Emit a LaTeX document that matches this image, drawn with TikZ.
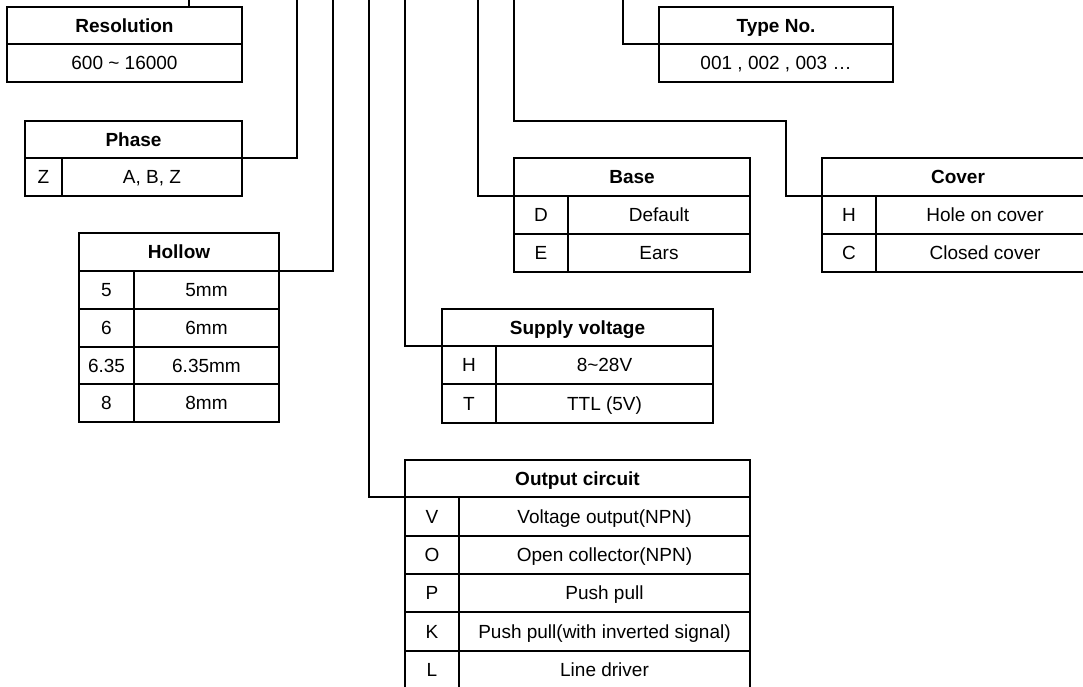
\documentclass[tikz,border=0pt]{standalone}
\usepackage{fontspec}
\setmainfont{Liberation Sans}
\begin{document}
\begin{tikzpicture}[x=1pt,y=-1pt,line width=2.8pt,
  cell/.style={draw, rectangle, inner sep=0pt, outer sep=0pt, anchor=north west, text height=13.6pt, text depth=0pt, font=\fontsize{19}{23}\selectfont},
  head/.style={cell, font=\fontsize{19}{23}\selectfont\bfseries},
  link/.style={line width=2.8pt}]
\clip (0,0) rectangle (1083,686);
% Resolution
\node[head, minimum width=235pt, minimum height=37pt] (resH) at (7,7) {Resolution};
\node[cell, minimum width=235pt, minimum height=38pt] (resV) at (7,44) {600 \textasciitilde{} 16000};
% Phase
\node[head, minimum width=217pt, minimum height=37pt] (phH) at (25,121) {Phase};
\node[cell, minimum width=37pt, minimum height=38pt] (phK) at (25,158) {Z};
\node[cell, minimum width=180pt, minimum height=38pt] (phV) at (62,158) {A, B, Z};
% Hollow
\node[head, minimum width=200pt, minimum height=38pt] (holH) at (79,233) {Hollow};
\node[cell, minimum width=55pt, minimum height=38pt] (holK1) at (79,271) {5};
\node[cell, minimum width=145pt, minimum height=38pt] (holV1) at (134,271) {5mm};
\node[cell, minimum width=55pt, minimum height=38pt] (holK2) at (79,309) {6};
\node[cell, minimum width=145pt, minimum height=38pt] (holV2) at (134,309) {6mm};
\node[cell, minimum width=55pt, minimum height=37pt] (holK3) at (79,347) {6.35};
\node[cell, minimum width=145pt, minimum height=37pt] (holV3) at (134,347) {6.35mm};
\node[cell, minimum width=55pt, minimum height=38pt] (holK4) at (79,384) {8};
\node[cell, minimum width=145pt, minimum height=38pt] (holV4) at (134,384) {8mm};
% Type No.
\node[head, minimum width=234pt, minimum height=37pt] (typH) at (659,7) {Type No.};
\node[cell, minimum width=234pt, minimum height=38pt] (typV) at (659,44) {001 , 002 , 003 …};
% Base
\node[head, minimum width=236pt, minimum height=38pt] (baseH) at (514,158) {Base};
\node[cell, minimum width=54pt, minimum height=38pt] (baseK1) at (514,196) {D};
\node[cell, minimum width=182pt, minimum height=38pt] (baseV1) at (568,196) {Default};
\node[cell, minimum width=54pt, minimum height=38pt] (baseK2) at (514,234) {E};
\node[cell, minimum width=182pt, minimum height=38pt] (baseV2) at (568,234) {Ears};
% Cover
\node[head, minimum width=272pt, minimum height=38pt] (covH) at (822,158) {Cover};
\node[cell, minimum width=54pt, minimum height=38pt] (covK1) at (822,196) {H};
\node[cell, minimum width=218pt, minimum height=38pt] (covV1) at (876,196) {Hole on cover};
\node[cell, minimum width=54pt, minimum height=38pt] (covK2) at (822,234) {C};
\node[cell, minimum width=218pt, minimum height=38pt] (covV2) at (876,234) {Closed cover};
% Supply voltage
\node[head, minimum width=271pt, minimum height=37pt] (supH) at (442,309) {Supply voltage};
\node[cell, minimum width=54pt, minimum height=38pt] (supK1) at (442,346) {H};
\node[cell, minimum width=217pt, minimum height=38pt] (supV1) at (496,346) {8\textasciitilde28V};
\node[cell, minimum width=54pt, minimum height=39pt] (supK2) at (442,384) {T};
\node[cell, minimum width=217pt, minimum height=39pt] (supV2) at (496,384) {TTL (5V)};
% Output circuit
\node[head, minimum width=345pt, minimum height=37pt] (outH) at (405,460) {Output circuit};
\node[cell, minimum width=54pt, minimum height=39pt] (outK1) at (405,497) {V};
\node[cell, minimum width=291pt, minimum height=39pt] (outV1) at (459,497) {Voltage output(NPN)};
\node[cell, minimum width=54pt, minimum height=38pt] (outK2) at (405,536) {O};
\node[cell, minimum width=291pt, minimum height=38pt] (outV2) at (459,536) {Open collector(NPN)};
\node[cell, minimum width=54pt, minimum height=38pt] (outK3) at (405,574) {P};
\node[cell, minimum width=291pt, minimum height=38pt] (outV3) at (459,574) {Push pull};
\node[cell, minimum width=54pt, minimum height=39pt] (outK4) at (405,612) {K};
\node[cell, minimum width=291pt, minimum height=39pt] (outV4) at (459,612) {Push pull(with inverted signal)};
\node[cell, minimum width=54pt, minimum height=38pt] (outK5) at (405,651) {L};
\node[cell, minimum width=291pt, minimum height=38pt] (outV5) at (459,651) {Line driver};
% connectors
\coordinate (tres) at (189,-5);
\coordinate (tph) at (297,-5);
\coordinate (thol) at (333,-5);
\coordinate (tout) at (369,-5);
\coordinate (tsup) at (405,-5);
\coordinate (tbase) at (478,-5);
\coordinate (tcov) at (514,-5);
\coordinate (bcov) at (786,121);
\coordinate (ttype) at (623,-5);
\draw[link] (tres) -- (tres |- resH.north);
\draw[link] (phH.south east) -| (tph);
\draw[link] (holH.south east) -| (thol);
\draw[link] (outH.south west) -| (tout);
\draw[link] (supH.south west) -| (tsup);
\draw[link] (baseH.south west) -| (tbase);
\draw[link] (covH.south west) -| (bcov) -| (tcov);
\draw[link] (typH.south west) -| (ttype);
\end{tikzpicture}
\end{document}
